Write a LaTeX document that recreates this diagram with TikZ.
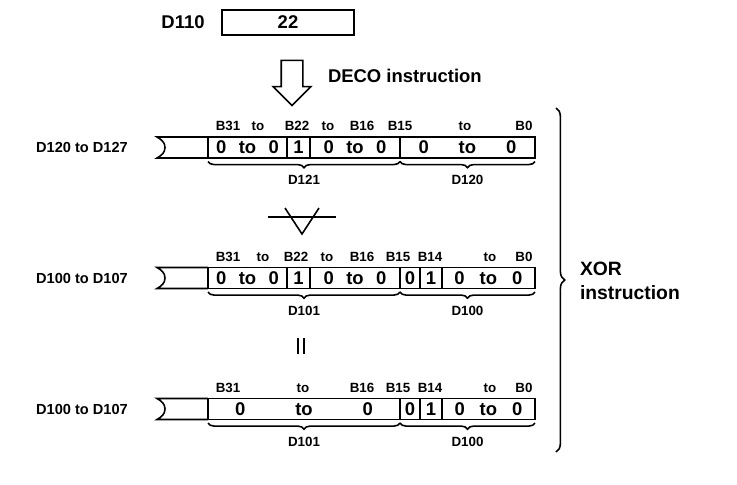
\documentclass[tikz,border=0pt]{standalone}
\usepackage{fontspec}
\setmainfont{Liberation Sans}
\usetikzlibrary{shapes,arrows,positioning,calc,decorations.pathreplacing}

\begin{document}
\begin{tikzpicture}[x=0.02cm,y=-0.02cm,line width=0.9pt,
  every node/.style={font=\fontsize{7.6}{9}\selectfont\bfseries,inner sep=0pt,outer sep=0pt},
  cell/.style={draw,minimum height=0.42cm,font=\fontsize{10.5}{12}\selectfont\bfseries},
  reg/.style={font=\fontsize{8.3}{10}\selectfont\bfseries},
  brc/.style={decorate,decoration={brace,mirror,amplitude=3.5pt}}]
\useasboundingbox (0,0) rectangle (737,484);
% source word
\node[font=\fontsize{10.5}{12}\selectfont\bfseries] (d110) at (183,22) {D110};
\node[draw,minimum width=2.64cm,minimum height=0.5cm,font=\fontsize{10.5}{12}\selectfont\bfseries] (src) at (288,22.5) {22};
\node[draw,single arrow,shape border rotate=270,minimum height=0.9cm,inner sep=0.2cm,single arrow head extend=0.16cm] (deco) at (292,77.5) {};
\node[font=\fontsize{10.5}{13}\selectfont\bfseries,anchor=west] (decolbl) at (328,76) {DECO instruction};
% row 1: D120 to D127
\node[reg] (r1) at (82,147) {D120 to D127};
\node[cell,minimum width=1.58cm] (a1) at (247.5,147.5) {0\hspace{2.5mm}to\hspace{2.5mm}0};
\node[cell,minimum width=0.46cm,right=0pt of a1] (a2) {1};
\node[cell,minimum width=1.8cm,right=0pt of a2] (a3) {0\hspace{2.5mm}to\hspace{2.5mm}0};
\node[cell,minimum width=2.7cm,right=0pt of a3] (a4) {0\hspace{6mm}to\hspace{6mm}0};
\draw (a1.north west) -- ++(-51,0) to[out=-30,in=90] ++(8,10.5) to[out=-90,in=30] ++(-8,10.5) -- (a1.south west);
\node (a1b31) at (228,126) {B31};
\node (a1to) at (258,126) {to};
\node (a1b22) at (297,126) {B22};
\node (a2to) at (328,126) {to};
\node (a3b16) at (362,126) {B16};
\node (a4b15) at (400,126) {B15};
\node (a4to) at (465,126) {to};
\node (a4b0) at (524,126) {B0};
\draw[brc] ([yshift=-2pt]a1.south west) -- ([yshift=-2pt]a3.south east) node[midway,below=8pt] (d121) {D121};
\draw[brc] ([yshift=-2pt]a4.south west) -- ([yshift=-2pt]a4.south east) node[midway,below=8pt] (d120) {D120};
% xor symbol
\coordinate (xorsym) at (302,217);
\draw ($(xorsym)+(-34,0)$) -- ($(xorsym)+(34,0)$);
\draw ($(xorsym)+(-17,-9)$) -- ($(xorsym)+(0,17)$) -- ($(xorsym)+(17,-9)$);
% row 2: D100 to D107
\node[reg] (r2) at (82,278) {D100 to D107};
\node[cell,minimum width=1.58cm] (b1) at (247.5,278) {0\hspace{2.5mm}to\hspace{2.5mm}0};
\node[cell,minimum width=0.46cm,right=0pt of b1] (b2) {1};
\node[cell,minimum width=1.8cm,right=0pt of b2] (b3) {0\hspace{2.5mm}to\hspace{2.5mm}0};
\node[cell,minimum width=0.4cm,right=0pt of b3] (b4) {0};
\node[cell,minimum width=0.44cm,right=0pt of b4] (b5) {1};
\node[cell,minimum width=1.86cm,right=0pt of b5] (b6) {0\hspace{3mm}to\hspace{3mm}0};
\draw (b1.north west) -- ++(-51,0) to[out=-30,in=90] ++(8,10.5) to[out=-90,in=30] ++(-8,10.5) -- (b1.south west);
\node (b1b31) at (228,257) {B31};
\node (b1to) at (263,257) {to};
\node (b1b22) at (296,257) {B22};
\node (b2to) at (327,257) {to};
\node (b3b16) at (362,257) {B16};
\node (b4b15) at (398,257) {B15};
\node (b5b14) at (430,257) {B14};
\node (b6to) at (490,257) {to};
\node (b6b0) at (524,257) {B0};
\draw[brc] ([yshift=-2pt]b1.south west) -- ([yshift=-2pt]b3.south east) node[midway,below=8pt] (d101a) {D101};
\draw[brc] ([yshift=-2pt]b4.south west) -- ([yshift=-2pt]b6.south east) node[midway,below=8pt] (d100a) {D100};
% equals
\coordinate (eqsym) at (301,346);
\draw ($(eqsym)+(-3,-8)$) -- ($(eqsym)+(-3,8)$);
\draw ($(eqsym)+(3,-8)$) -- ($(eqsym)+(3,8)$);
% row 3: result
\node[reg] (r3) at (82,409) {D100 to D107};
\node[cell,minimum width=3.84cm] (e1) at (304,409) {0\hspace{10mm}to\hspace{10mm}0};
\node[cell,minimum width=0.4cm,right=0pt of e1] (e2) {0};
\node[cell,minimum width=0.44cm,right=0pt of e2] (e3) {1};
\node[cell,minimum width=1.86cm,right=0pt of e3] (e4) {0\hspace{3mm}to\hspace{3mm}0};
\draw (e1.north west) -- ++(-51,0) to[out=-30,in=90] ++(8,10.5) to[out=-90,in=30] ++(-8,10.5) -- (e1.south west);
\node (e1b31) at (228,388) {B31};
\node (e1to) at (303,388) {to};
\node (e1b16) at (362,388) {B16};
\node (e2b15) at (398,388) {B15};
\node (e3b14) at (430,388) {B14};
\node (e4to) at (490,388) {to};
\node (e4b0) at (524,388) {B0};
\draw[brc] ([yshift=-2pt]e1.south west) -- ([yshift=-2pt]e1.south east) node[midway,below=8pt] (d101b) {D101};
\draw[brc] ([yshift=-2pt]e2.south west) -- ([yshift=-2pt]e4.south east) node[midway,below=8pt] (d100b) {D100};
% xor instruction brace
\coordinate (xtop) at (556,108);
\coordinate (xbot) at (556,452);
\draw[decorate,decoration={brace,amplitude=5pt}] (xtop) -- (xbot);
\node[font=\fontsize{11}{13.5}\selectfont\bfseries,align=left,anchor=west] (xorlbl) at (580,281) {XOR\\instruction};
\end{tikzpicture}
\end{document}
